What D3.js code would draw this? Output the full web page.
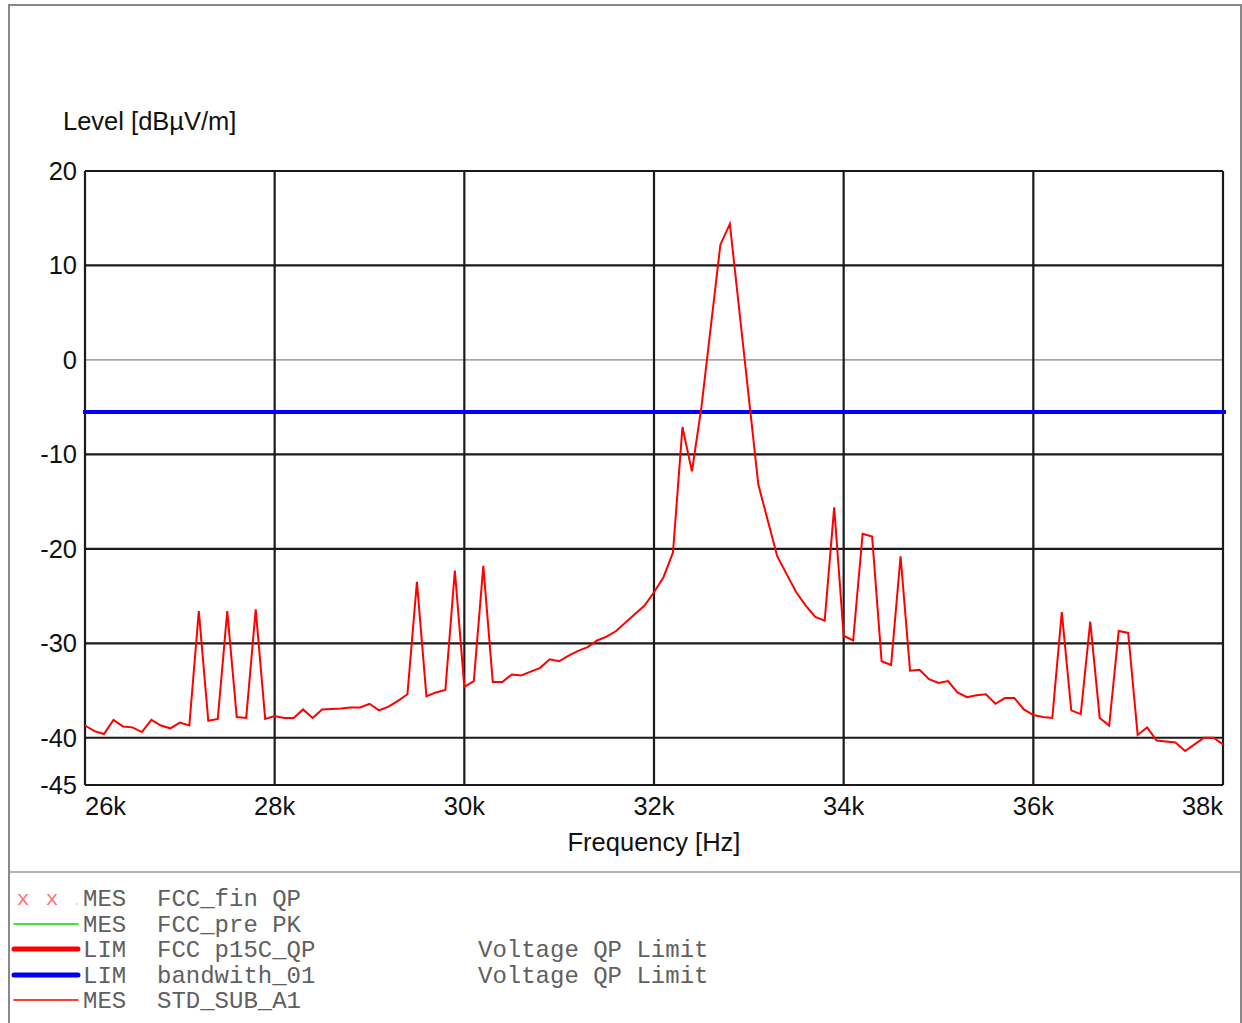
<!DOCTYPE html>
<html>
<head>
<meta charset="utf-8">
<script src="https://cdn.jsdelivr.net/npm/d3@7"></script>
<style>
  body { margin: 0; background: #fff; }
  text { font-family: "Liberation Sans", Arial, sans-serif; }
  .legend text { font-family: "Liberation Mono", "Courier New", monospace; fill: #606060; }
</style>
</head>
<body>
<div id="chart"></div>
<script>
// measured level, one point every 100 Hz from 26k to 38k
var freqStart = 26000;
var freqStep = 100;
var levels = [
  -38.7, -39.3, -39.6, -38.1, -38.8, -38.9, -39.4, -38.1, -38.7, -39.0,
  -38.4, -38.7, -26.6, -38.2, -38.0, -26.6, -37.8, -37.9, -26.4, -38.0,
  -37.7, -37.9, -37.9, -37.0, -37.9, -37.0, -36.95, -36.9, -36.8, -36.8,
  -36.4, -37.1, -36.7, -36.1, -35.4, -23.5, -35.6, -35.2, -34.95, -22.3,
  -34.6, -34.0, -21.8, -34.1, -34.1, -33.3, -33.4, -33.0, -32.6, -31.7,
  -31.9, -31.3, -30.8, -30.4, -29.7, -29.3, -28.7, -27.8, -26.9, -26.0,
  -24.6, -23.0, -20.4, -7.1, -11.8, -5.0, 3.6, 12.2, 14.4, 5.2,
  -4.0, -13.2, -17.0, -20.8, -22.7, -24.6, -26.0, -27.2, -27.6, -15.6,
  -29.2, -29.7, -18.4, -18.7, -31.9, -32.3, -20.8, -32.9, -32.8, -33.8,
  -34.2, -34.0, -35.2, -35.7, -35.5, -35.4, -36.4, -35.8, -35.8, -37.0,
  -37.6, -37.8, -37.9, -26.7, -37.1, -37.5, -27.7, -37.9, -38.7, -28.7,
  -28.9, -39.7, -38.9, -40.3, -40.4, -40.5, -41.4, -40.7, -40.0, -40.0,
  -40.7
];
var limitLevel = -5.5;

var yTicks = [20, 10, 0, -10, -20, -30, -40, -45];
var xTicks = [26000, 28000, 30000, 32000, 34000, 36000, 38000];
var xTickLabels = ["26k", "28k", "30k", "32k", "34k", "36k", "38k"];

var legendRows = [
  { kind: "MES", name: "FCC_fin QP", note: "" },
  { kind: "MES", name: "FCC_pre PK", note: "" },
  { kind: "LIM", name: "FCC p15C_QP", note: "Voltage QP Limit" },
  { kind: "LIM", name: "bandwith_01", note: "Voltage QP Limit" },
  { kind: "MES", name: "STD_SUB_A1", note: "" }
];

var svgWidth = 1242;
var svgHeight = 1023;
var plot = { left: 85, right: 1223, top: 171, bottom: 785 };
var fontSize = "25.5px";

var svg = d3.select("#chart")
  .append("svg")
  .attr("width", svgWidth)
  .attr("height", svgHeight);

// outer frame + separator above legend
svg.append("path")
  .attr("d", "M9,1030 V5 H1241 V1030")
  .attr("fill", "none")
  .attr("stroke", "#888")
  .attr("stroke-width", 2);
svg.append("line")
  .attr("x1", 9).attr("x2", 1241)
  .attr("y1", 872).attr("y2", 872)
  .attr("stroke", "#999")
  .attr("stroke-width", 1.5);

var xScale = d3.scaleLinear()
  .domain([26000, 38000])
  .range([plot.left, plot.right]);

var yScale = d3.scaleLinear()
  .domain([-45, 20])
  .range([plot.bottom, plot.top]);

// horizontal grid
svg.append("g")
  .selectAll("line")
  .data(yTicks)
  .enter().append("line")
  .attr("x1", plot.left)
  .attr("x2", plot.right)
  .attr("y1", d => yScale(d))
  .attr("y2", d => yScale(d))
  .attr("stroke", d => d === 0 ? "#666" : "#1a1a1a")
  .attr("stroke-width", d => d === 0 ? 1 : 2.2);

// vertical grid
svg.append("g")
  .selectAll("line")
  .data(xTicks)
  .enter().append("line")
  .attr("x1", d => xScale(d))
  .attr("x2", d => xScale(d))
  .attr("y1", plot.top)
  .attr("y2", plot.bottom)
  .attr("stroke", "#1a1a1a")
  .attr("stroke-width", 2.2);

// y tick labels
svg.append("g")
  .selectAll("text")
  .data(yTicks)
  .enter().append("text")
  .attr("x", 77)
  .attr("y", d => yScale(d))
  .attr("dy", "0.35em")
  .attr("text-anchor", "end")
  .style("font-size", fontSize)
  .attr("fill", "#111")
  .text(d => d);

// x tick labels, outer ones pulled inside
svg.append("g")
  .selectAll("text")
  .data(xTicks)
  .enter().append("text")
  .attr("x", d => xScale(d))
  .attr("y", 815)
  .attr("text-anchor", (d, i) => i === 0 ? "start" : (i === xTicks.length - 1 ? "end" : "middle"))
  .style("font-size", fontSize)
  .attr("fill", "#111")
  .text((d, i) => xTickLabels[i]);

svg.append("text")
  .attr("x", 63)
  .attr("y", 130)
  .style("font-size", fontSize)
  .attr("fill", "#111")
  .text("Level [dBµV/m]");

svg.append("text")
  .attr("x", 654)
  .attr("y", 851)
  .attr("text-anchor", "middle")
  .style("font-size", fontSize)
  .attr("fill", "#111")
  .text("Frequency [Hz]");

// limit line
svg.append("line")
  .attr("x1", plot.left - 2)
  .attr("x2", plot.right + 3)
  .attr("y1", yScale(limitLevel))
  .attr("y2", yScale(limitLevel))
  .attr("stroke", "#0000ff")
  .attr("stroke-width", 4);

// measurement trace
var line = d3.line()
  .x((d, i) => xScale(freqStart + i * freqStep))
  .y(d => yScale(d));

svg.append("path")
  .datum(levels)
  .attr("d", line)
  .attr("fill", "none")
  .attr("stroke", "#ff0000")
  .attr("stroke-width", 2)
  .attr("stroke-linejoin", "miter");

// legend
var legend = svg.append("g").attr("class", "legend");
var rowY = [898, 924, 949, 975, 1000];

legend.selectAll("text.kind")
  .data(legendRows)
  .enter().append("text")
  .attr("class", "kind")
  .attr("x", 83)
  .attr("y", (d, i) => rowY[i])
  .attr("dy", "0.35em")
  .style("font-size", "24px")
  .text(d => d.kind);

legend.selectAll("text.name")
  .data(legendRows)
  .enter().append("text")
  .attr("class", "name")
  .attr("x", 157)
  .attr("y", (d, i) => rowY[i])
  .attr("dy", "0.35em")
  .style("font-size", "24px")
  .text(d => d.name);

legend.selectAll("text.note")
  .data(legendRows)
  .enter().append("text")
  .attr("class", "note")
  .attr("x", 478)
  .attr("y", (d, i) => rowY[i])
  .attr("dy", "0.35em")
  .style("font-size", "24px")
  .text(d => d.note);

// legend samples
legend.selectAll("text.mark")
  .data([23, 52])
  .enter().append("text")
  .attr("class", "mark")
  .attr("x", d => d)
  .attr("y", rowY[0])
  .attr("dy", "0.35em")
  .attr("text-anchor", "middle")
  .style("font-size", "21px")
  .style("fill", "#ff7070")
  .text("x");
legend.append("circle")
  .attr("cx", 77).attr("cy", rowY[0] + 6).attr("r", 0.8)
  .attr("fill", "#bbb");

var samples = [
  { row: 1, color: "#00dd00", width: 1.5 },
  { row: 2, color: "#ff0000", width: 5 },
  { row: 3, color: "#0000ee", width: 5 },
  { row: 4, color: "#ff0000", width: 1.5 }
];
legend.selectAll("line")
  .data(samples)
  .enter().append("line")
  .attr("x1", 14)
  .attr("x2", 78)
  .attr("y1", d => rowY[d.row])
  .attr("y2", d => rowY[d.row])
  .attr("stroke", d => d.color)
  .attr("stroke-width", d => d.width)
  .attr("stroke-linecap", "round");
</script>
</body>
</html>
